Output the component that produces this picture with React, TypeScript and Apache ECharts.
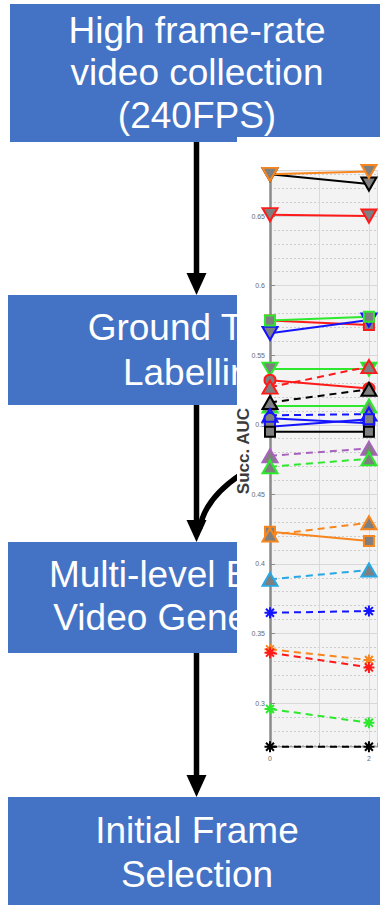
import React, { useEffect, useRef } from "react";
import * as echarts from "echarts";

// ---- data ----
const xValues = [0, 2];
const xTickLabels = ["0", "2"];
const yTickLabels = ["0.3", "0.35", "0.4", "0.45", "0.5", "0.55", "0.6", "0.65"];
const yTitle = "Succ. AUC";

const blackTriDown = [0.68, 0.673];
const orangeTriDown = [0.68, 0.682];
const redTriDown = [0.651, 0.65];
const redSquare = [0.575, 0.5717];
const blueTriDown = [0.5657, 0.5753];
const greenSquare = [0.575, 0.5777];
const greenTriDown = [0.54, 0.54];
const redCircle = [0.532, 0.526];
const redTriUpDash = [0.527, 0.5418];
const blackTriUpDash = [0.516, 0.5255];
const greenTriUp = [0.5135, 0.5135];
const blueTriUpDash = [0.5068, 0.5076];
const blueCircle = [0.5046, 0.501];
const blueSquare = [0.4986, 0.504];
const blackSquare = [0.495, 0.495];
const purpleTriUpDash = [0.4777, 0.483];
const greenTriUpDash = [0.4698, 0.4756];
const orangeSquare = [0.4231, 0.4165];
const orangeTriUpDash = [0.4208, 0.4296];
const lightBlueTriUpDash = [0.3889, 0.3956];
const blueStarDash = [0.3649, 0.3661];
const orangeStarDash = [0.3386, 0.3309];
const redStarDash = [0.3362, 0.3256];
const greenStarDash = [0.2957, 0.2858];
const blackStarDash = [0.2686, 0.2686];

const yMin = 0.2684;
const yMax = 0.6831;
const xMax = 2.163;

const boxTexts = [
  ["High frame-rate", "video collection", "(240FPS)"],
  ["Ground Truth", "Labelling"],
  ["Multi-level Blurred", "Video Generation"],
  ["Initial Frame", "Selection"],
];

// ---- styles ----
const C = {
  black: "#000000",
  orange: "#f7861f",
  red: "#ff1a1a",
  green: "#2ee82e",
  blue: "#1414ff",
  purple: "#a862bd",
  lightBlue: "#27a7e3",
};
const STAR = "path://M5,0 L5,10 M0,5 L10,5 M1.4,1.4 L8.6,8.6 M1.4,8.6 L8.6,1.4";

type Spec = { name: string; data: number[]; color: string; dash: boolean; marker: string };
const specs: Spec[] = [
  { name: "blackTriDown", data: blackTriDown, color: C.black, dash: false, marker: "triDown" },
  { name: "orangeTriDown", data: orangeTriDown, color: C.orange, dash: false, marker: "triDown" },
  { name: "redTriDown", data: redTriDown, color: C.red, dash: false, marker: "triDown" },
  { name: "redSquare", data: redSquare, color: C.red, dash: false, marker: "square" },
  { name: "blueTriDown", data: blueTriDown, color: C.blue, dash: false, marker: "triDown" },
  { name: "greenSquare", data: greenSquare, color: C.green, dash: false, marker: "square" },
  { name: "greenTriDown", data: greenTriDown, color: C.green, dash: false, marker: "triDown" },
  { name: "redCircle", data: redCircle, color: C.red, dash: false, marker: "circle" },
  { name: "redTriUpDash", data: redTriUpDash, color: C.red, dash: true, marker: "triUp" },
  { name: "greenTriUp", data: greenTriUp, color: C.green, dash: false, marker: "triUp" },
  { name: "blackTriUpDash", data: blackTriUpDash, color: C.black, dash: true, marker: "triUp" },
  { name: "blueTriUpDash", data: blueTriUpDash, color: C.blue, dash: true, marker: "triUp" },
  { name: "blueCircle", data: blueCircle, color: C.blue, dash: false, marker: "circle" },
  { name: "blueSquare", data: blueSquare, color: C.blue, dash: false, marker: "square" },
  { name: "blackSquare", data: blackSquare, color: C.black, dash: false, marker: "square" },
  { name: "purpleTriUpDash", data: purpleTriUpDash, color: C.purple, dash: true, marker: "triUp" },
  { name: "greenTriUpDash", data: greenTriUpDash, color: C.green, dash: true, marker: "triUp" },
  { name: "orangeSquare", data: orangeSquare, color: C.orange, dash: false, marker: "square" },
  { name: "orangeTriUpDash", data: orangeTriUpDash, color: C.orange, dash: true, marker: "triUp" },
  { name: "lightBlueTriUpDash", data: lightBlueTriUpDash, color: C.lightBlue, dash: true, marker: "triUp" },
  { name: "blueStarDash", data: blueStarDash, color: C.blue, dash: true, marker: "star" },
  { name: "orangeStarDash", data: orangeStarDash, color: C.orange, dash: true, marker: "star" },
  { name: "redStarDash", data: redStarDash, color: C.red, dash: true, marker: "star" },
  { name: "greenStarDash", data: greenStarDash, color: C.green, dash: true, marker: "star" },
  { name: "blackStarDash", data: blackStarDash, color: C.black, dash: true, marker: "star" },
];

const FONT = '"Liberation Sans", Arial, Helvetica, sans-serif';
const BOX_FONT_SIZE = 37;
const BOX_BLUE = "#4472c4";
const COVER_X = 237;

let measureCtx: CanvasRenderingContext2D | null = null;
function measure(text: string): number {
  try {
    if (!measureCtx) measureCtx = document.createElement("canvas").getContext("2d");
    if (measureCtx) {
      measureCtx.font = `${BOX_FONT_SIZE}px ${FONT}`;
      return measureCtx.measureText(text).width;
    }
  } catch (e) {}
  return text.length * BOX_FONT_SIZE * 0.5;
}

// keep the characters whose left edge lies before the chart picture (the rest is hidden by it)
function visiblePrefix(text: string, x0: number): string {
  let k = 0;
  while (k < text.length && x0 + measure(text.slice(0, k)) < COVER_X) k++;
  return text.slice(0, k);
}

function buildSeries(s: Spec) {
  let symbol: string = "triangle";
  let symbolSize: any = [15, 13];
  let symbolRotate = 0;
  let itemStyle: any = { color: "#7f7f7f", borderColor: s.color, borderWidth: 2 };
  if (s.marker === "triDown") symbolRotate = 180;
  if (s.marker === "square") { symbol = "rect"; symbolSize = 10; }
  if (s.marker === "circle") { symbol = "circle"; symbolSize = 11; }
  if (s.marker === "star") {
    symbol = STAR;
    symbolSize = 11;
    itemStyle = { color: "rgba(0,0,0,0)", borderColor: s.color, borderWidth: 2 };
  }
  return {
    name: s.name,
    type: "line",
    xAxisIndex: 0,
    yAxisIndex: 0,
    z: 5,
    data: xValues.map((x, i) => [x, s.data[i]]),
    symbol,
    symbolSize,
    symbolRotate,
    showSymbol: true,
    clip: false,
    itemStyle,
    lineStyle: { color: s.color, width: 2, type: s.dash ? [7, 5] : "solid" },
    emphasis: { disabled: true },
  };
}

function boxGraphics() {
  const els: any[] = [];
  const boxes = [
    { x: 10, y: 4, h: 138, covered: false },
    { x: 8, y: 295, h: 110, covered: true },
    { x: 8, y: 542, h: 111, covered: true },
    { x: 8, y: 797, h: 120, covered: false },
  ];
  const lineYs = [
    [30, 72, 115],
    [327, 372],
    [574, 617],
    [830, 874],
  ];
  const cx = 197;
  boxes.forEach((b, i) => {
    els.push({ type: "rect", z: 0, shape: { x: b.x, y: b.y, width: 390, height: b.h }, style: { fill: BOX_BLUE } });
    boxTexts[i].forEach((t, j) => {
      if (!b.covered) {
        els.push({
          type: "text", z: 0, z2: 5, x: cx, y: lineYs[i][j],
          style: { text: t, fill: "#ffffff", fontSize: BOX_FONT_SIZE, fontFamily: FONT, textAlign: "center", textVerticalAlign: "middle", verticalAlign: "middle" },
        });
      } else {
        const x0 = cx - measure(t) / 2;
        els.push({
          type: "text", z: 0, z2: 5, x: x0, y: lineYs[i][j],
          style: {
            text: visiblePrefix(t, x0), fill: "#ffffff", fontSize: BOX_FONT_SIZE, fontFamily: FONT, textAlign: "left",
            textVerticalAlign: "middle", verticalAlign: "middle",
          },
        });
      }
    });
  });
  const ax = 196.5;
  const arrows = [
    [142, 295],
    [405, 542],
    [653, 797],
  ];
  arrows.forEach(([y1, y2]) => {
    els.push({ type: "line", z: 0, shape: { x1: ax, y1, x2: ax, y2: y2 - 18 }, style: { stroke: "#000", lineWidth: 5.5 } });
    els.push({ type: "polygon", z: 0, shape: { points: [[ax - 10, y2 - 22], [ax + 10, y2 - 22], [ax, y2]] }, style: { fill: "#000" } });
  });
  els.push({
    type: "bezierCurve", z: 0,
    shape: { x1: 240, y1: 475, cpx1: 218, cpy1: 490, cpx2: 203, cpy2: 508, x2: 200, y2: 528 },
    style: { stroke: "#000", lineWidth: 5.5, fill: "none" },
  });
  // white background of the overlaid chart picture
  els.push({ type: "rect", z: 1, shape: { x: COVER_X, y: 137, width: 150, height: 632 }, style: { fill: "#ffffff" } });
  els.push({
    type: "text", z: 10, x: 243, y: 451, rotation: Math.PI / 2,
    style: { text: yTitle, fill: "#3c3c3c", fontSize: 17, fontWeight: "bold", fontFamily: FONT, textAlign: "center", textVerticalAlign: "middle", verticalAlign: "middle" },
  });
  return els;
}

const fmtY = (v: number) => {
  const s = String(Number(v.toFixed(2)));
  return yTickLabels.includes(s) && Math.abs(v * 20 - Math.round(v * 20)) < 1e-6 ? s : "";
};
const fmtX = (v: number) => {
  const s = String(Number(v.toFixed(3)));
  return xTickLabels.includes(s) ? s : "";
};

export default function App() {
  const ref = useRef<HTMLDivElement>(null);
  useEffect(() => {
    if (!ref.current) return;
    const chart = echarts.init(ref.current, undefined, { renderer: "svg" });
    chart.setOption({
      animation: false,
      backgroundColor: "#ffffff",
      textStyle: { fontFamily: FONT },
      graphic: { elements: boxGraphics() },
      grid: { left: 270, top: 170, width: 110, height: 577, show: true, backgroundColor: "#f3f3f3", borderWidth: 0, z: 2, containLabel: false },
      xAxis: {
        type: "value", min: 0, max: xMax, interval: 1, z: 3,
        axisLine: { show: true, onZero: false, lineStyle: { color: "#8a8a8a", width: 1.5 } },
        axisTick: { show: true, inside: true, length: 4, lineStyle: { color: "#8a8a8a" } },
        axisLabel: { formatter: fmtX, fontSize: 7, color: "#6a6a6a", margin: 8, fontFamily: FONT },
        splitLine: { show: true, lineStyle: { color: "#dadada", width: 1 } },
      },
      yAxis: [
        {
          type: "value", min: yMin, max: yMax, splitNumber: 41, minInterval: 0.01, maxInterval: 0.01, z: 3,
          axisLine: { show: false }, axisTick: { show: false }, axisLabel: { show: false },
          splitLine: { show: true, lineStyle: { color: "#cdcdcd", width: 1.2, type: [2, 2] } },
        },
        {
          type: "value", min: yMin, max: yMax, splitNumber: 8, minInterval: 0.05, maxInterval: 0.05, position: "left", z: 4,
          axisLine: { show: true, onZero: false, lineStyle: { color: "#8a8a8a", width: 2.5 } },
          axisTick: { show: true, inside: true, length: 5, lineStyle: { color: "#8a8a8a" } },
          axisLabel: { formatter: fmtY, fontSize: 7, color: "#6a6a6a", margin: 5, showMinLabel: false, showMaxLabel: false, fontFamily: FONT },
          splitLine: { show: true, lineStyle: { color: "#d8d8d8", width: 1 } },
        },
      ],
      series: specs.map(buildSeries),
    });
    return () => chart.dispose();
  }, []);
  return <div ref={ref} style={{ position: "absolute", left: 0, top: 0, width: 380, height: 905 }} />;
}
